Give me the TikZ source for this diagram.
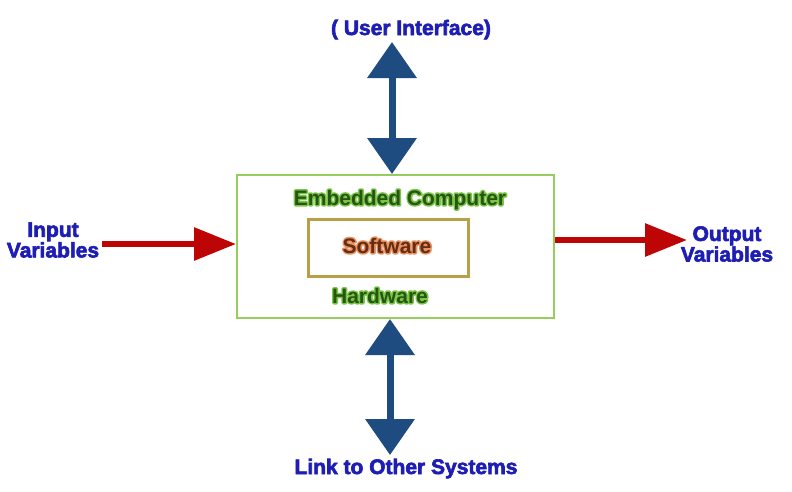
\documentclass[tikz,border=0pt]{standalone}
\usepackage{fontspec}
\setmainfont{Liberation Sans}
\usetikzlibrary{arrows.meta}
\definecolor{lblue}{RGB}{30,30,180}
\definecolor{abblue}{RGB}{30,75,128}
\definecolor{ared}{RGB}{190,5,5}
\definecolor{boxgreen}{RGB}{150,205,95}
\definecolor{swbox}{RGB}{185,160,70}
\definecolor{dgreen}{RGB}{40,85,20}
\definecolor{swtext}{RGB}{100,45,20}
\tikzset{
  lbl/.style={inner sep=0pt, font=\fontsize{21}{19}\selectfont\bfseries},
  bluelbl/.style={lbl, text=lblue, execute at begin node={\special{pdf:literal q 2 Tr 0.6 w 0.118 0.118 0.706 RG}},
    execute at end node={\special{pdf:literal Q}}},
  bluearr/.style={draw=abblue, line width=7pt,
    {Triangle[length=36pt,width=48pt]}-{Triangle[length=36pt,width=48pt]}},
  redarr/.style={draw=ared, line width=6pt, -{Triangle[length=42pt,width=32pt]}},
}
% outline (stroke only) of a text, in the given r g b colour
\newcommand\outlinetxt[2]{\special{pdf:literal q 1 Tr 3 w 1 j #1 RG}#2\special{pdf:literal Q}}
% name, position, text, text colour, glow rgb
\newcommand\glowlabel[5]{%
  \node[lbl, anchor=base] at #2 {\outlinetxt{#5}{#3}};
  \node[lbl, anchor=base, text=#4] (#1) at #2 {#3};
}
\begin{document}
\begin{tikzpicture}[x=1pt, y=-1pt]
\useasboundingbox[fill=white] (0,0) rectangle (792,491);
% boxes
\node[draw=boxgreen, line width=2pt, minimum width=317pt, minimum height=143pt, inner sep=0pt] (box) at (395.5,246.5) {};
\node[draw=swbox, line width=3pt, minimum width=160pt, minimum height=57pt, inner sep=0pt] (sw) at (388,247.5) {};
% texts inside
\glowlabel{emb}{(400,205)}{Embedded Computer}{dgreen}{0.48 0.78 0.28}
\glowlabel{swt}{(387,253)}{Software}{swtext}{0.92 0.57 0.38}
\glowlabel{hw}{(380,303)}{Hardware}{dgreen}{0.48 0.78 0.28}
% outside labels
\node[bluelbl, anchor=base] (ui) at (411,35) {( User Interface)};
\node[bluelbl, anchor=base] (lk) at (406,474) {Link to Other Systems};
\node[bluelbl, align=center] (inp) at (53,240) {Input\\Variables};
\node[bluelbl, align=center] (outp) at (727,244) {Output\\Variables};
% connectors
\coordinate (uitip) at (392,42);
\coordinate (lktip) at (390,455);
\coordinate (instart) at (102,244);
\coordinate (outtip) at (687,240);
\draw[bluearr] (uitip) -- (uitip |- box.north);
\draw[bluearr] (lktip |- box.south) -- (lktip);
\draw[redarr] (instart) -- (instart -| box.west);
\draw[redarr] (outtip -| box.east) -- (outtip);
\end{tikzpicture}
\end{document}
